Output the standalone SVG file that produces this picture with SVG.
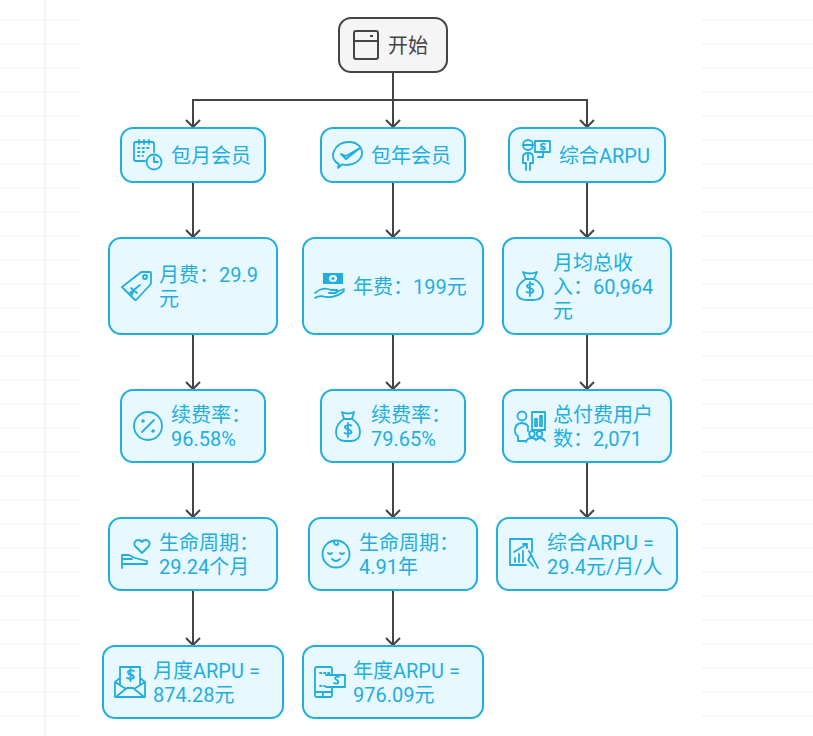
<svg xmlns="http://www.w3.org/2000/svg" width="813" height="736" viewBox="0 0 813 736">
<style>
text{font-family:Roboto,"Noto Sans CJK SC",sans-serif;font-size:20px;fill:#22aedd}
.n{fill:#e7f9ff;stroke:#22aedd;stroke-width:2}
.i{fill:none;stroke:#22aedd;stroke-width:1.800;stroke-linecap:round;stroke-linejoin:round}
.f{fill:#22aedd;stroke:none}
.d{fill:none;stroke:#444;stroke-width:2;stroke-linejoin:round}
.c{fill:none;stroke:#444;stroke-width:2}
.gh{stroke:#f9f9f9;stroke-width:2;fill:none}
.gv{stroke:#fdf1ef;stroke-width:2;fill:none}
</style>
<defs>
<marker id="a" markerUnits="userSpaceOnUse" markerWidth="18" markerHeight="12" refX="15" refY="6" orient="auto" overflow="visible"><path d="M8 -1L15 6L8 13" fill="none" stroke="#444" stroke-width="2"/></marker>
</defs>
<rect width="813" height="736" fill="#fff"/>
<g id="background">
<path class="gh" d="M0 20H79M0 44H79M0 68H79M0 92H79M0 116H79M0 140H79M0 164H79M0 188H79M0 212H79M0 236H79M0 260H79M0 284H79M0 308H79M0 332H79M0 356H79M0 380H79M0 404H79M0 428H79M0 452H79M0 476H79M0 500H79M0 524H79M0 548H79M0 572H79M0 596H79M0 620H79M0 644H79M0 668H79M0 692H79M0 716H79"/>
<path class="gh" d="M701 20H813M701 44H813M701 68H813M701 92H813M701 116H813M701 140H813M701 164H813M701 188H813M701 212H813M701 236H813M701 260H813M701 284H813M701 308H813M701 332H813M701 356H813M701 380H813M701 404H813M701 428H813M701 452H813M701 476H813M701 500H813M701 524H813M701 548H813M701 572H813M701 596H813M701 620H813M701 644H813M701 668H813M701 692H813M701 716H813"/>
<path class="gv" d="M45 0V736"/>
</g>
<g id="connectors">
<path class="c" marker-end="url(#a)" d="M393 72V100H193V127"/>
<path class="c" marker-end="url(#a)" d="M393 72V127"/>
<path class="c" marker-end="url(#a)" d="M393 72V100H587V127"/>
<path class="c" marker-end="url(#a)" d="M193 182V237"/>
<path class="c" marker-end="url(#a)" d="M393 182V237"/>
<path class="c" marker-end="url(#a)" d="M587 182V237"/>
<path class="c" marker-end="url(#a)" d="M193 334V389"/>
<path class="c" marker-end="url(#a)" d="M393 334V389"/>
<path class="c" marker-end="url(#a)" d="M587 334V389"/>
<path class="c" marker-end="url(#a)" d="M193 462V517"/>
<path class="c" marker-end="url(#a)" d="M393 462V517"/>
<path class="c" marker-end="url(#a)" d="M587 462V517"/>
<path class="c" marker-end="url(#a)" d="M193 590V645"/>
<path class="c" marker-end="url(#a)" d="M393 590V645"/>
</g>
<g id="start">
<rect x="339" y="18" width="108" height="54" rx="12" fill="#f5f5f5" stroke="#444" stroke-width="2"/>
<rect class="d" x="354" y="31" width="24" height="28" rx="2"/><path class="d" d="M354 41H378M370 36H373"/>
<text x="388" y="53" style="fill:#444">开始</text>
</g>
<g id="monthly">
<rect class="n" x="121" y="128" width="144" height="54" rx="12"/>
<path class="i" d="M145 161H136Q134 161 134 159V144Q134 142 136 142H152Q154 142 154 144V152M139 140V144M149 140V144M144 140V144"/>
<path class="i" stroke-dasharray="1.500 3" d="M138 148H150M138 152H147M138 156H143"/>
<circle class="i" cx="154" cy="162" r="7.500"/><path class="i" d="M154 157V162H158"/>
<text x="171" y="163">包月会员</text>
</g>
<g id="yearly">
<rect class="n" x="321" y="128" width="144" height="54" rx="12"/>
<path class="i" d="M339 164C331 160 333 153 334 151C337 144 343 142 349 142C357 142 362 147 362 153C362 160 354 165 347 165C345 165 343 164.500 342 164.500L338 168Z"/>
<path class="i" d="M341 154L346 159L360 148M341 154L346 156L360 148"/>
<text x="371" y="163">包年会员</text>
</g>
<g id="arpu">
<rect class="n" x="509" y="128" width="156" height="54" rx="12"/>
<circle class="i" cx="528" cy="145" r="5"/><path class="i" d="M523 145H533"/>
<path class="i" d="M526 170V163H523V157Q523 153 528 153Q533 153 533 157V163H530V170M528 153V160"/>
<rect class="i" x="535" y="141" width="15" height="11"/><path class="i" d="M543 152V157H538M545 144Q542 143 541 145Q541 147 543 147Q545 147 545 149Q543 150 541 149"/>
<text x="559" y="163">综合ARPU</text>
</g>
<g id="monthly-fee">
<rect class="n" x="109" y="238" width="168" height="96" rx="12"/>
<path class="i" d="M122 287L140 273Q141 272 142 272L150 272Q151 272 151 273L151 283Q151 284 150 285L137 299Q136 300 135 300Z"/>
<circle class="i" cx="145" cy="277" r="2"/><path class="i" d="M131 288L137 293M130 293L140 285M134 290L131 296"/>
<text x="159" y="282">月费：29.9</text><text x="159" y="306">元</text>
</g>
<g id="yearly-fee">
<rect class="n" x="303" y="238" width="180" height="96" rx="12"/>
<rect class="f" x="323" y="273" width="20" height="11"/><ellipse cx="333" cy="278.500" rx="4" ry="3.500" fill="#e7f9ff"/><circle class="f" cx="333" cy="278.500" r="1.500"/>
<path class="i" d="M315 293Q323 286 331 290H337Q339 291 336 293H329M336 292L344 289M315 298Q319 295 326 297Q336 298 344 291"/>
<text x="353" y="294">年费：199元</text>
</g>
<g id="total-revenue">
<rect class="n" x="503" y="238" width="168" height="96" rx="12"/>
<path class="i" d="M523 272Q530 275 537 272L534 279Q543 284 543 292Q543 300 533 300H527Q517 300 517 292Q517 284 526 279ZM526 279H534"/>
<path class="i" d="M533.500 284.500Q530 283 527 285.500Q527 288 530 288Q533.500 289 533.500 291.500Q531 294 526.500 292M530 282V296"/>
<text x="553" y="270">月均总收</text><text x="553" y="294">入：60,964</text><text x="553" y="318">元</text>
</g>
<g id="monthly-renewal">
<rect class="n" x="121" y="390" width="144" height="72" rx="12"/>
<circle class="i" cx="148" cy="426" r="14"/><path class="i" d="M142 432L154 420"/><circle class="f" cx="143" cy="421" r="1.800"/><circle class="f" cx="153" cy="431" r="1.800"/>
<text x="171" y="422">续费率：</text><text x="171" y="446">96.58%</text>
</g>
<g id="yearly-renewal">
<rect class="n" x="321" y="390" width="144" height="72" rx="12"/>
<path class="i" d="M342 412Q348 415 354 412L352 419Q360 424 360 432Q360 441 351 441H345Q336 441 336 432Q336 424 344 419ZM344 419H352"/>
<path class="i" d="M351.500 425.500Q348 424 345 426.500Q345 429 348 429Q351.500 430 351.500 432.500Q349 435 344.500 433M348 423V437"/>
<text x="371" y="422">续费率：</text><text x="371" y="446">79.65%</text>
</g>
<g id="paying-users">
<rect class="n" x="503" y="390" width="168" height="72" rx="12"/>
<circle class="i" cx="522" cy="416" r="4.500"/><path class="i" d="M528 431V426Q526 423 521 423Q515 424 515 430Q515 435 518 436V441H526"/>
<rect class="i" x="532" y="412" width="13" height="18"/><rect class="i" x="535" y="419" width="2" height="7"/><rect class="i" x="540" y="416" width="2" height="10"/><circle class="i" cx="532" cy="434" r="2.800"/><circle class="i" cx="539.500" cy="434" r="2.800"/><path class="i" d="M526 442Q527 438 532 438Q535 438 536 440Q538 438 540 438Q543 438 545 441"/>
<text x="553" y="422">总付费用户</text><text x="553" y="446">数：2,071</text>
</g>
<g id="monthly-life">
<rect class="n" x="109" y="518" width="168" height="72" rx="12"/>
<path class="i" d="M142 553L135 546Q133 541 138 540Q141 540 142 542Q143 540 146 540Q151 541 149 546Z"/>
<path class="i" d="M122 555V568M122 564H147V561L135 558L129 555H122M122 559H132"/>
<text x="159" y="550">生命周期：</text><text x="159" y="574">29.24个月</text>
</g>
<g id="yearly-life">
<rect class="n" x="309" y="518" width="168" height="72" rx="12"/>
<circle class="i" cx="336" cy="554" r="13.500"/><path class="i" d="M334 541Q334 545 337 545Q339 544 338 543M328 553Q330 555 332 553M340 553Q342 555 344 553M332 559Q336 563 340 559"/>
<text x="359" y="550">生命周期：</text><text x="359" y="574">4.91年</text>
</g>
<g id="blended-arpu">
<rect class="n" x="497" y="518" width="180" height="72" rx="12"/>
<path class="i" d="M532 552V539H510V565H526"/>
<path class="i" d="M514 552L527 544M523 544H527V548M515 562V558M519 562V554M523 562V551"/>
<path class="i" d="M529 551L538 568M531 555L528 560L533 566"/>
<text x="547" y="550">综合ARPU =</text><text x="547" y="574">29.4元/月/人</text>
</g>
<g id="monthly-arpu">
<rect class="n" x="103" y="646" width="180" height="72" rx="12"/>
<path class="i" d="M120 684V667H140V684M115 682L120 678M145 682L140 678M115 682V697H145V682M115 682L126 689M145 682L134 689M117 696L127 688H133L143 696"/>
<path class="i" d="M134 671Q131 669.500 128 671.500Q128 674 130 674.500Q134 675 134 677.500Q131 680 127 678M130.500 669V681"/>
<text x="153" y="678">月度ARPU =</text><text x="153" y="702">874.28元</text>
</g>
<g id="yearly-arpu">
<rect class="n" x="303" y="646" width="180" height="72" rx="12"/>
<path class="i" d="M332 673V669Q332 667 330 667H317Q315 667 315 669V695Q315 697 317 697H330Q332 697 332 695V687M315 692H332M323 692V697"/>
<path class="i" stroke-dasharray="1.500 2.500" d="M320 673H331M320 686H325"/>
<path class="i" d="M326 675H345V687H326"/>
<path class="i" d="M339 677Q336 676 335 678Q336 680 337 680Q339 681 338 683Q336 684 334 683"/>
<text x="353" y="678">年度ARPU =</text><text x="353" y="702">976.09元</text>
</g>
</svg>
